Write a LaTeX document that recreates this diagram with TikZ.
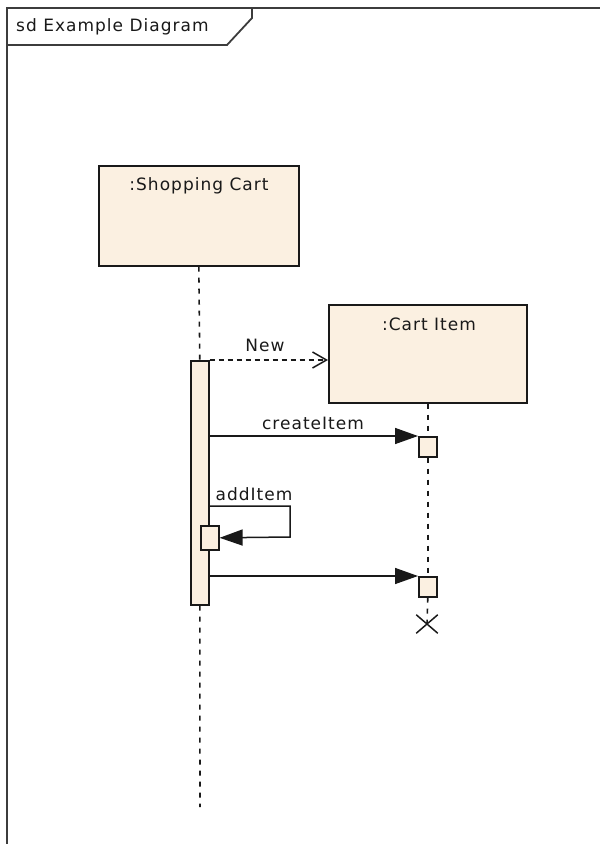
\documentclass[tikz,border=0pt]{standalone}
\usepackage{fontspec}
\setmainfont[LetterSpace=6]{DejaVu Sans}
\usetikzlibrary{arrows.meta,shapes.misc}
\definecolor{cream}{RGB}{251,240,225}
\definecolor{ink}{RGB}{25,25,25}
\begin{document}
\begin{tikzpicture}[x=1pt,y=-1pt,
  font=\fontsize{17}{20}\selectfont,
  obj/.style={draw=ink, fill=cream, line width=1.6pt, rectangle, inner sep=0pt, anchor=north west},
  lbl/.style={inner sep=1pt, text=ink},
  life/.style={draw=ink, line width=1.6pt, dash pattern=on 5pt off 6pt},
  msg/.style={draw=ink, line width=1.5pt, -{Triangle[length=23pt,width=16pt]}},
  newmsg/.style={draw=ink, line width=1.5pt, dash pattern=on 5pt off 4pt, -{Straight Barb[length=14pt,width=16pt,line width=1.5pt]}},
  frame/.style={draw=ink!85, line width=1.8pt}
]
\useasboundingbox (0,0) rectangle (600,844);
% frame
\draw[frame] (600,8) -- (7,8) -- (7,844);
\draw[frame] (7,45) -- (227,45) -- (252,18) -- (252,8);
\node[lbl, anchor=west] (title) at (15,27) {sd Example Diagram};
% objects
\node[obj, minimum width=200pt, minimum height=100pt] (sc) at (98,165) {};
\node[lbl] (sct) at (199,186) {:Shopping Cart};
\node[obj, minimum width=198pt, minimum height=98pt] (cart) at (328,304) {};
\node[lbl] (cartt) at (429,324) {:Cart Item};
% activations
\node[obj, minimum width=18pt, minimum height=244pt] (act) at (190,360) {};
\node[obj, minimum width=18pt, minimum height=24pt] (ab) at (200,525) {};
\node[obj, minimum width=18pt, minimum height=20pt] (ci1) at (418,436) {};
\node[obj, minimum width=18pt, minimum height=20pt] (ci2) at (418,576) {};
\node[cross out, draw=ink, line width=1.5pt, minimum width=20pt, minimum height=17pt, inner sep=0pt] (xd) at (427,624) {};
\coordinate (scend) at (200,807);
% lifelines
\draw[life] (sc.south) -- (act.north);
\draw[life] (act.south) -- (scend);
\draw[life] (cart.south) -- (ci1.north);
\draw[life] (ci1.south) -- (ci2.north);
\draw[life] (ci2.south) -- (xd.center);
% messages
\draw[newmsg] (act.north east) -- (act.north east -| cart.west);
\node[lbl] (newl) at (265,345) {New};
\draw[msg] (act.east |- ci1.north west) -- (ci1.north west);
\node[lbl] (cil) at (313,423) {createItem};
\draw[msg] (act.east |- 0,506) -- (290,506) -- (290,537) -- (ab.east);
\node[lbl] (ail) at (254,494) {addItem};
\draw[msg] (act.east |- ci2.north west) -- (ci2.north west);
\end{tikzpicture}
\end{document}
